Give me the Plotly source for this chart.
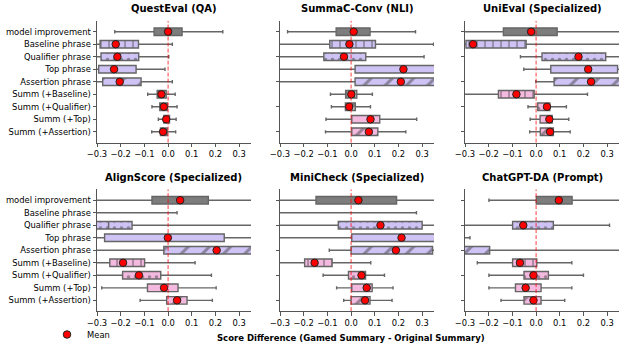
import plotly.graph_objects as go
from plotly.subplots import make_subplots

W, H = 623, 349

categories = [
    "model improvement", "Baseline phrase", "Qualifier phrase", "Top phrase",
    "Assertion phrase", "Summ (+Baseline)", "Summ (+Qualifier)", "Summ (+Top)",
    "Summ (+Assertion)",
]
hatches = ["", "|", ".", "", "/", "|", ".", "", "/"]
hatch_size = {"": 8, "|": 8, ".": 7, "/": 15}

titles = ["QuestEval (QA)", "SummaC-Conv (NLI)", "UniEval (Specialized)",
          "AlignScore (Specialized)", "MiniCheck (Specialized)", "ChatGPT-DA (Prompt)"]

# box stats per metric (ends past the axis are clipped)
questeval_q1 = [-0.059, -0.287, -0.283, -0.293, -0.276, -0.046, -0.035, -0.018, -0.032]
questeval_q3 = [0.059, -0.125, -0.124, -0.135, -0.114, -0.008, -0.003, 0.006, -0.004]
questeval_lo = [-0.225, -0.33, -0.33, -0.33, -0.33, -0.086, -0.068, -0.041, -0.069]
questeval_hi = [0.231, 0.018, 0.003, -0.013, 0.018, 0.030, 0.038, 0.034, 0.032]
questeval_mean = [0.0, -0.221, -0.214, -0.228, -0.204, -0.028, -0.018, -0.008, -0.021]

summac_q1 = [-0.063, -0.090, -0.115, 0.017, 0.017, -0.023, -0.024, 0.003, 0.003]
summac_q3 = [0.080, 0.103, 0.062, 0.40, 0.40, 0.024, 0.018, 0.121, 0.113]
summac_lo = [-0.268, -0.35, -0.35, -0.35, -0.35, -0.087, -0.083, -0.106, -0.108]
summac_hi = [0.272, 0.348, 0.308, 0.45, 0.45, 0.090, 0.082, 0.277, 0.231]
summac_mean = [0.011, -0.007, -0.030, 0.221, 0.210, 0.001, -0.008, 0.082, 0.075]

unieval_q1 = [-0.138, -0.296, 0.025, 0.062, 0.076, -0.159, 0.007, 0.017, 0.018]
unieval_q3 = [0.089, -0.042, 0.294, 0.344, 0.40, -0.008, 0.058, 0.068, 0.073]
unieval_lo = [-0.35, -0.33, -0.066, -0.052, -0.001, -0.35, -0.034, -0.025, -0.027]
unieval_hi = [0.45, 0.45, 0.45, 0.38, 0.45, 0.217, 0.128, 0.138, 0.144]
unieval_mean = [-0.021, -0.266, 0.179, 0.220, 0.232, -0.083, 0.046, 0.056, 0.059]

alignscore_q1 = [-0.068, -0.50, -0.35, -0.268, -0.018, -0.246, -0.192, -0.087, -0.006]
alignscore_q3 = [0.170, -0.40, -0.152, 0.237, 0.40, -0.099, -0.031, 0.042, 0.080]
alignscore_lo = [-0.35, -0.60, -0.45, -0.35, -0.35, -0.33, -0.35, -0.280, -0.118]
alignscore_hi = [0.45, 0.038, 0.45, 0.45, 0.45, 0.114, 0.183, 0.203, 0.187]
alignscore_mean = [0.051, None, None, -0.001, 0.205, -0.190, -0.123, -0.017, 0.038]

minicheck_q1 = [-0.148, -0.50, -0.054, 0.003, 0.0, -0.196, -0.011, 0.003, 0.0]
minicheck_q3 = [0.192, -0.40, 0.300, 0.40, 0.344, -0.080, 0.061, 0.089, 0.080]
minicheck_lo = [-0.35, -0.60, -0.35, -0.35, -0.092, -0.35, -0.118, -0.061, -0.031]
minicheck_hi = [0.45, 0.276, 0.45, 0.45, 0.45, 0.083, 0.141, 0.177, 0.173]
minicheck_mean = [0.031, None, 0.124, 0.213, 0.189, -0.154, 0.044, 0.066, 0.059]

chatgpt_q1 = [0.001, None, -0.099, -0.50, -0.45, -0.099, -0.051, -0.087, -0.051]
chatgpt_q3 = [0.152, None, 0.073, -0.40, -0.196, 0.003, 0.052, 0.021, 0.021]
chatgpt_lo = [-0.199, None, -0.35, -0.60, -0.55, -0.248, -0.199, -0.199, -0.148]
chatgpt_hi = [0.45, None, 0.310, -0.279, 0.45, 0.151, 0.200, 0.151, 0.121]
chatgpt_mean = [0.096, None, -0.054, None, None, -0.068, -0.011, -0.044, -0.011]

GRAY, LAV, PINK = "#7d7d7d", "#cfc3f6", "#f3b9df"
colors_questeval = [GRAY] + [LAV] * 4 + [GRAY] * 4
colors_summac = [GRAY] + [LAV] * 4 + [GRAY] * 2 + [PINK] * 2
colors_other = [GRAY] + [LAV] * 4 + [PINK] * 4

panels = [
    (questeval_q1, questeval_q3, questeval_lo, questeval_hi, questeval_mean, colors_questeval),
    (summac_q1, summac_q3, summac_lo, summac_hi, summac_mean, colors_summac),
    (unieval_q1, unieval_q3, unieval_lo, unieval_hi, unieval_mean, colors_other),
    (alignscore_q1, alignscore_q3, alignscore_lo, alignscore_hi, alignscore_mean, colors_other),
    (minicheck_q1, minicheck_q3, minicheck_lo, minicheck_hi, minicheck_mean, colors_other),
    (chatgpt_q1, chatgpt_q3, chatgpt_lo, chatgpt_hi, chatgpt_mean, colors_other),
]

FONT = "DejaVu Sans"
EDGE = "#666666"
BOXW = 0.6

fig = make_subplots(rows=2, cols=3)

x_doms = [(97, 251), (280, 434), (465, 619)]
y_doms = [(21, 143), (190, 312)]

for k, (q1, q3, lo, hi, mean, cols) in enumerate(panels):
    r, c = k // 3 + 1, k % 3 + 1
    idx = [i for i in range(9) if q1[i] is not None]
    ys = [categories[i] for i in idx]
    med = []
    for i in idx:
        m = mean[i] if mean[i] is not None else (q1[i] + q3[i]) / 2
        med.append(min(max(m, q1[i]), q3[i]))

    # filled + hatched box bodies
    fig.add_trace(go.Bar(
        y=ys, x=[q3[i] - q1[i] for i in idx], base=[q1[i] for i in idx],
        orientation="h", width=BOXW,
        marker=dict(color=[cols[i] for i in idx], line=dict(width=0),
                    pattern=dict(shape=[hatches[i] for i in idx], fgcolor="#6e6e6e",
                                 size=[hatch_size[hatches[i]] for i in idx],
                                 solidity=0.2)),
        showlegend=False, hoverinfo="skip",
    ), row=r, col=c)

    # outlines, whiskers, medians
    fig.add_trace(go.Box(
        y=ys, q1=[q1[i] for i in idx], q3=[q3[i] for i in idx], median=med,
        lowerfence=[lo[i] for i in idx], upperfence=[hi[i] for i in idx],
        orientation="h", width=BOXW, whiskerwidth=0.45,
        fillcolor="rgba(0,0,0,0)", line=dict(color=EDGE, width=1.4),
        showlegend=False,
    ), row=r, col=c)

    mi = [i for i in range(9) if mean[i] is not None]
    fig.add_trace(go.Scatter(
        x=[mean[i] for i in mi], y=[categories[i] for i in mi], mode="markers",
        marker=dict(color="red", size=7.5, line=dict(color="#222", width=1)),
        name="Mean", showlegend=(k == 0),
    ), row=r, col=c)

    fig.add_vline(x=0, line=dict(color="rgba(255,0,0,0.75)", width=1, dash="4px,2px"),
                  row=r, col=c)

    xd = x_doms[c - 1]
    yd = y_doms[r - 1]
    fig.update_xaxes(
        domain=[xd[0] / W, xd[1] / W], range=[-0.3, 0.35], automargin=False,
        tickvals=[-0.3, -0.2, -0.1, 0.0, 0.1, 0.2, 0.3], tickformat=".1f",
        showline=True, linecolor="#555", linewidth=1, ticks="outside", ticklen=3.5,
        tickcolor="#555", showgrid=False, zeroline=False,
        tickfont=dict(family=FONT, size=8.4, color="black"),
        row=r, col=c)
    fig.update_yaxes(
        domain=[1 - yd[1] / H, 1 - yd[0] / H], type="category", automargin=False,
        categoryorder="array", categoryarray=categories, autorange="reversed",
        showline=True, linecolor="#555", linewidth=1, ticks="outside", ticklen=3.5,
        tickcolor="#555", showgrid=False, zeroline=False, showticklabels=(c == 1),
        tickfont=dict(family=FONT, size=8.4, color="black"),
        row=r, col=c)

    fig.add_annotation(
        text=titles[k], x=(xd[0] + xd[1]) / 2 / W, y=1 - (9 if r == 1 else 178) / H,
        xref="paper", yref="paper", showarrow=False, xanchor="center", yanchor="middle",
        font=dict(family=FONT, size=10, color="black", weight="bold"))

fig.add_annotation(
    text="Score Difference (Gamed Summary - Original Summary)",
    x=351 / W, y=1 - 339 / H, xref="paper", yref="paper", showarrow=False,
    xanchor="center", yanchor="middle",
    font=dict(family=FONT, size=8.5, color="black", weight="bold"))

fig.update_layout(
    width=W, height=H, margin=dict(l=0, r=0, t=0, b=0),
    plot_bgcolor="white", paper_bgcolor="white",
    barmode="overlay", boxmode="overlay",
    font=dict(family=FONT, size=8.4, color="black"),
    legend=dict(x=47 / W, y=1 - 335 / H, xanchor="left", yanchor="middle",
                bgcolor="rgba(0,0,0,0)", font=dict(family=FONT, size=8.4)),
)

# page body has a default 8px margin; drop it so the figure sits at the top-left
fig.write_html("out.html", config={"displayModeBar": False},
               post_script="document.body.style.margin='0';")
